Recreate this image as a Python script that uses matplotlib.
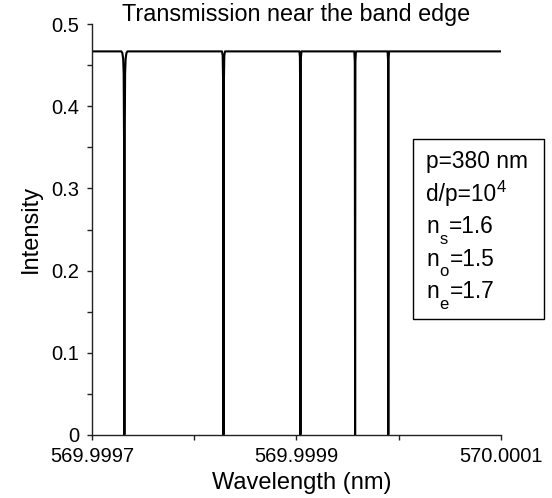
import matplotlib
matplotlib.use("Agg")
import matplotlib.pyplot as plt
from matplotlib.patches import Rectangle
from matplotlib.ticker import FixedLocator, FixedFormatter

plt.rcParams['font.family'] = ['Liberation Sans', 'DejaVu Sans']

# Data (nm, intensity)
wavelength = [
    569.9997000,
    569.9997287, 569.9997297, 569.9997305, 569.9997310, 569.9997314, 569.9997316,
    569.9997317,
    569.9997318, 569.9997320, 569.9997324, 569.9997329, 569.9997337, 569.9997347,
    569.9998272, 569.9998279, 569.9998283, 569.9998285,
    569.9998287,
    569.9998289, 569.9998291, 569.9998295, 569.9998302,
    569.9999030, 569.9999035, 569.9999038,
    569.9999040,
    569.9999042, 569.9999045, 569.9999050,
    569.9999567, 569.9999572,
    569.9999575,
    569.9999578, 569.9999583,
    569.9999893, 569.9999898,
    569.9999900,
    569.9999902, 569.9999907,
    570.0001000,
]
intensity = [
    0.467,
    0.467, 0.465, 0.458, 0.440, 0.350, 0.150,
    0.000,
    0.150, 0.350, 0.440, 0.458, 0.465, 0.467,
    0.467, 0.462, 0.430, 0.250,
    0.000,
    0.250, 0.430, 0.462, 0.467,
    0.467, 0.460, 0.400,
    0.000,
    0.400, 0.460, 0.467,
    0.467, 0.455,
    0.000,
    0.455, 0.467,
    0.467, 0.455,
    0.000,
    0.455, 0.467,
    0.467,
]

x_ticks = [569.9997, 569.9998, 569.9999, 570.0000, 570.0001]
x_tick_labels = ['569.9997', '', '569.9999', '', '570.0001']
y_ticks = [0.0, 0.05, 0.1, 0.15, 0.2, 0.25, 0.3, 0.35, 0.4, 0.45, 0.5]
y_tick_labels = ['0', '', '0.1', '', '0.2', '', '0.3', '', '0.4', '', '0.5']

# parameter box: (main text, script text, script kind, remainder)
box_lines = [
    ('p=380 nm', '', None, ''),
    ('d/p=10', '4', 'sup', ''),
    ('n', 's', 'sub', '=1.6'),
    ('n', 'o', 'sub', '=1.5'),
    ('n', 'e', 'sub', '=1.7'),
]

W, H = 552, 498
fig = plt.figure(figsize=(W / 100, H / 100), dpi=100)
ax = fig.add_axes([92 / W, 1 - 434.7 / H, 408.7 / W, 410.4 / H])

ax.plot(wavelength, intensity, color='black', lw=1.5, solid_joinstyle='round')

ax.set_xlim(569.9997, 570.0001)
ax.set_ylim(0, 0.5)
ax.xaxis.set_major_locator(FixedLocator(x_ticks))
ax.xaxis.set_major_formatter(FixedFormatter(x_tick_labels))
ax.yaxis.set_major_locator(FixedLocator(y_ticks))
ax.yaxis.set_major_formatter(FixedFormatter(y_tick_labels))

for s in ['top', 'right']:
    ax.spines[s].set_visible(False)
for s in ['left', 'bottom']:
    ax.spines[s].set_linewidth(1.0)
    ax.spines[s].set_color('#222222')
ax.tick_params(axis='x', direction='out', length=3.5, width=1.0, color='#222222',
               labelsize=14.5, pad=5)
ax.tick_params(axis='y', direction='out', length=3.5, width=1.0, color='#222222',
               labelsize=14.5, pad=5.5)

fig.text(296 / W, 1 - 21.5 / H, 'Transmission near the band edge', ha='center',
         va='baseline', fontsize=16.8)
fig.text(302 / W, 1 - 483 / H, 'Wavelength (nm)', ha='center', va='center', fontsize=17)
fig.text(31 / W, 1 - 229 / H, 'Intensity', ha='center', va='center', rotation=90,
         fontsize=17)

rect = Rectangle((413.3 / W, 1 - 319 / H), (544 - 413.3) / W, (319 - 139) / H,
                 transform=fig.transFigure, fill=False, edgecolor='black', lw=1.0)
fig.patches.append(rect)

renderer = fig.canvas.get_renderer()
baselines = [168, 200.5, 233, 265.5, 298]
for (main, scr, kind, rest), b in zip(box_lines, baselines):
    t = fig.text(426 / W, 1 - b / H, main, ha='left', va='baseline', fontsize=16.4)
    if not scr:
        continue
    x_end = t.get_window_extent(renderer).x1  # pixels
    if kind == 'sup':
        xs, ys = x_end + 0.5, b - 8.5
    else:
        xs, ys = x_end + 0.5, b + 10.5
    s = fig.text(xs / W, 1 - ys / H, scr, ha='left', va='baseline', fontsize=12)
    if rest:
        x2 = s.get_window_extent(renderer).x1
        fig.text((x2 + 1.0) / W, 1 - b / H, rest, ha='left', va='baseline', fontsize=16.4)

fig.savefig('out.png', dpi=100)
